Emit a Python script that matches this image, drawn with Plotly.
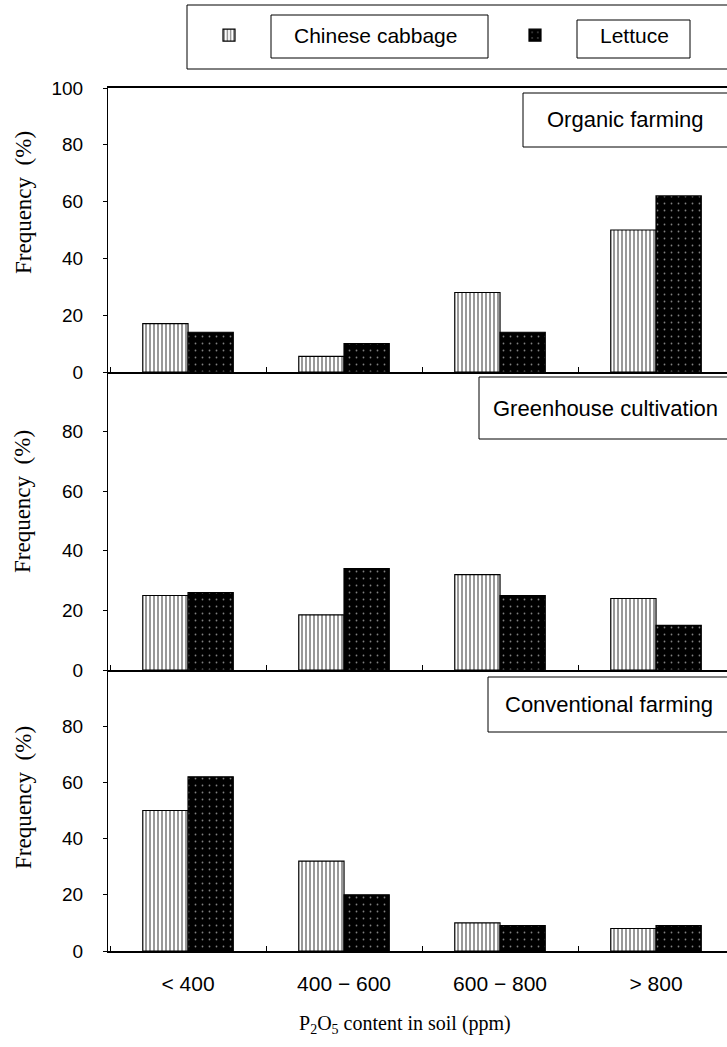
import plotly.graph_objects as go

categories = ["< 400", "400 − 600", "600 − 800", "> 800"]
series_names = ["Chinese cabbage", "Lettuce"]
panels = ["Organic farming", "Greenhouse cultivation", "Conventional farming"]

organic_cabbage = [17, 5.5, 28, 50]
organic_lettuce = [14, 10, 14, 62]
greenhouse_cabbage = [25, 18.5, 32, 24]
greenhouse_lettuce = [26, 34, 25, 15]
conventional_cabbage = [50, 32, 10, 8]
conventional_lettuce = [62, 20, 9, 9]

y_title = "Frequency \u00a0(%)"
x_title = "P<sub>2</sub>O<sub>5</sub> content in soil (ppm)"

W, H = 727, 1047
L, R, T, B = 108, 0, 88, 96
PW, PH = W - L - R, H - T - B


def px(x):
    return (x - L) / PW


def py(y):
    return (H - B - y) / PH


SANS = "Liberation Sans"
SERIF = "Liberation Serif"

data_sets = [
    (organic_cabbage, organic_lettuce),
    (greenhouse_cabbage, greenhouse_lettuce),
    (conventional_cabbage, conventional_lettuce),
]

fig = go.Figure()
for i, (cab, let) in enumerate(data_sets):
    sfx = "" if i == 0 else str(i + 1)
    fig.add_trace(go.Bar(
        x=categories, y=cab, name=series_names[0],
        xaxis="x" + sfx, yaxis="y" + sfx,
        marker=dict(color="white", line=dict(color="black", width=1.2),
                    pattern=dict(shape="|", fgcolor="black", bgcolor="white",
                                 size=4, solidity=0.4)),
        showlegend=(i == 0), legend="legend", legendgroup="cab",
        offsetgroup="cab",
    ))
    fig.add_trace(go.Bar(
        x=categories, y=let, name=series_names[1],
        xaxis="x" + sfx, yaxis="y" + sfx,
        marker=dict(color="black", line=dict(color="black", width=1.2),
                    pattern=dict(shape=".", fgcolor="white", bgcolor="black",
                                 size=7, solidity=0.05)),
        showlegend=(i == 0), legend="legend2", legendgroup="let",
        offsetgroup="let",
    ))

# panel boundaries in pixels
bounds = [(88, 372), (372, 670), (670, 951)]
title_centers = [203, 502, 798]

legend_common = dict(orientation="h", xref="container", yref="container",
                     xanchor="left", yanchor="top",
                     font=dict(family=SANS, size=21, color="black"),
                     itemwidth=120, bgcolor="rgba(0,0,0,0)", borderwidth=0)

layout = dict(
    width=W, height=H,
    margin=dict(l=L, r=R, t=T, b=B, pad=0),
    paper_bgcolor="white", plot_bgcolor="white",
    barmode="group", bargap=0.42, bargroupgap=0,
    font=dict(family=SANS, size=18, color="black"),
    legend=dict(legend_common, x=164 / W, y=1 - 15 / H),
    legend2=dict(legend_common, x=470 / W, y=1 - 15 / H),
)

for i, (top, bot) in enumerate(bounds):
    sfx = "" if i == 0 else str(i + 1)
    ax_y = "y" + sfx
    ax_x = "x" + sfx
    last = i == 2
    layout["xaxis" + sfx] = dict(
        domain=[0, 1], anchor=ax_y, type="category",
        categoryorder="array", categoryarray=categories,
        range=[-0.513, 3.455],
        showline=True, linecolor="black", linewidth=2,
        mirror=(i == 0),
        ticks="inside", tickson="boundaries", ticklen=5, tickcolor="black",
        showticklabels=last, ticklabelstandoff=13 if last else 0,
        tickfont=dict(family=SANS, size=21),
        showgrid=False, zeroline=False, fixedrange=True,
    )
    tv = [0, 20, 40, 60, 80, 100] if i == 0 else [0, 20, 40, 60, 80]
    layout["yaxis" + sfx] = dict(
        domain=[py(bot), py(top)], anchor=ax_x, range=[0, 100],
        tickvals=tv, ticktext=[str(v) for v in tv],
        showline=True, linecolor="black", linewidth=1.2,
        ticks="outside", ticklen=4, tickcolor="black",
        ticklabelstandoff=16,
        tickfont=dict(family=SANS, size=19),
        showgrid=False, zeroline=False, fixedrange=True,
    )

fig.update_layout(**layout)

shapes = []
annotations = []

# legend frame and label boxes
shapes.append(dict(type="rect", xref="paper", yref="paper",
                   x0=px(187), x1=px(735), y0=py(69), y1=py(5),
                   line=dict(color="black", width=1)))
shapes.append(dict(type="rect", xref="paper", yref="paper",
                   x0=px(271), x1=px(488), y0=py(58), y1=py(15),
                   line=dict(color="black", width=1)))
shapes.append(dict(type="rect", xref="paper", yref="paper",
                   x0=px(577), x1=px(690), y0=py(58), y1=py(20),
                   line=dict(color="black", width=1)))

# panel label boxes
boxes = [
    (523, 93, 147, 545, 120),
    (479, 377, 439, 491, 408),
    (488, 677, 732, 503, 704),
]
for name, (bx, btop, bbot, tx, ty) in zip(panels, boxes):
    shapes.append(dict(type="rect", xref="paper", yref="paper",
                       x0=px(bx), x1=px(735), y0=py(bbot), y1=py(btop),
                       line=dict(color="black", width=1), fillcolor="white",
                       layer="above"))
    annotations.append(dict(text=name, xref="paper", yref="paper",
                            x=px(tx), y=py(ty), xanchor="left", yanchor="middle",
                            showarrow=False,
                            font=dict(family=SANS, size=22, color="black")))

# y titles
for c in title_centers:
    annotations.append(dict(text=y_title, xref="paper", yref="paper",
                            x=px(23), y=py(c),
                            xanchor="center", yanchor="middle", textangle=-90,
                            showarrow=False,
                            font=dict(family=SERIF, size=23, color="black")))

annotations.append(dict(text=x_title, xref="paper", yref="paper",
                        x=px(405), y=py(1024), xanchor="center", yanchor="middle",
                        showarrow=False,
                        font=dict(family=SERIF, size=20, color="black")))

fig.update_layout(shapes=shapes, annotations=annotations)
fig.write_html("out.html")
